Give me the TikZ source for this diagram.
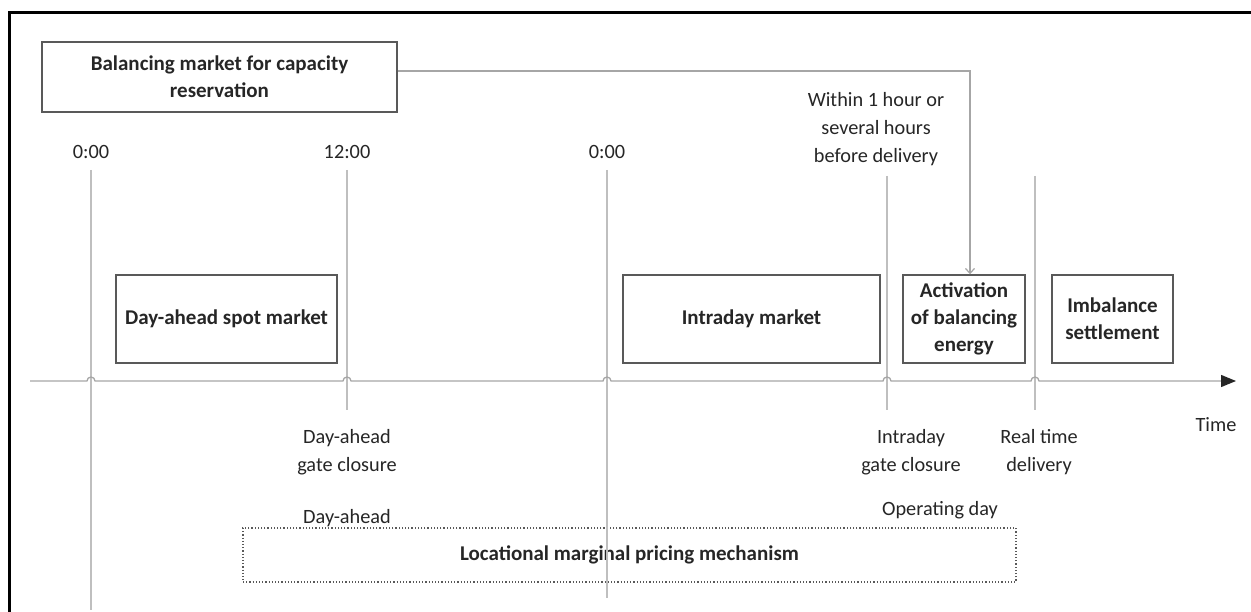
\documentclass[tikz,border=0pt]{standalone}
\usepackage{fontspec}
\setmainfont{Carlito}
\usetikzlibrary{arrows.meta}
\definecolor{txt}{HTML}{262626}
\definecolor{boxline}{HTML}{595959}
\definecolor{guide}{HTML}{BFBFBF}
\definecolor{axisc}{HTML}{A6A6A6}
\tikzset{
  mbox/.style={draw=boxline, line width=1.4pt, text=txt, font=\fontsize{21}{27}\selectfont\bfseries, align=center, inner sep=0pt},
  lbl/.style={text=txt, font=\fontsize{20.3}{28}\selectfont, align=center, inner sep=0pt},
  guideline/.style={draw=guide, line width=1.3pt},
}
\begin{document}
\begin{tikzpicture}[x=1pt,y=-1pt]
\useasboundingbox (0,0) rectangle (1251,612);
% frame
\draw[line width=3pt, black] (8,13) -- (1251,13);
\draw[line width=3pt, black] (9,13) -- (9,612);

% market boxes
\node[mbox, minimum width=355pt, minimum height=70pt] (bal) at (219.5,77) {Balancing market for capacity\\reservation};
\node[mbox, minimum width=221pt, minimum height=88pt] (da) at (226.5,319) {Day-ahead spot market};
\node[mbox, minimum width=257pt, minimum height=88pt] (id) at (751.5,319) {Intraday market};
\node[mbox, minimum width=122pt, minimum height=88pt] (act) at (964,319) {Activation\\of balancing\\energy};
\node[mbox, minimum width=121pt, minimum height=88pt] (imb) at (1112.5,319) {Imbalance\\settlement};
\node[draw=boxline, line width=1.2pt, dotted, minimum width=773pt, minimum height=54pt, inner sep=0pt,
      text=txt, font=\fontsize{21}{27}\selectfont\bfseries] (lmp) at (629.5,555) {Locational marginal pricing mechanism};

% time labels
\node[lbl] (t0) at (91,152) {0:00};
\node[lbl] (t12) at (347,152) {12:00};
\node[lbl] (t0b) at (607,152) {0:00};
\node[lbl] (within) at (876,129) {Within 1 hour or\\several hours\\before delivery};

% guide lines
\coordinate (g0) at (91,170);   \coordinate (g0e) at (91,610);
\coordinate (g12) at (347,170); \coordinate (g12e) at (347,410);
\coordinate (g0b) at (607,170); \coordinate (g0be) at (607,598);
\coordinate (gid) at (887,176); \coordinate (gide) at (887,410);
\coordinate (grt) at (1035,176);\coordinate (grte) at (1035,410);
\foreach \a/\b in {g0/g0e,g12/g12e,g0b/g0be,gid/gide,grt/grte}
  \draw[guideline] (\a) -- (\b);

% time axis with hops over the guide lines
\coordinate (ax0) at (30,381);
\coordinate (ax1) at (1236,381);
\draw[draw=axisc, line width=1.3pt, -{Triangle[length=15pt,width=12pt,color=black!85]}]
  (ax0) -- (87,381) arc[start angle=180,end angle=0,radius=4pt]
  -- (343,381) arc[start angle=180,end angle=0,radius=4pt]
  -- (603,381) arc[start angle=180,end angle=0,radius=4pt]
  -- (883,381) arc[start angle=180,end angle=0,radius=4pt]
  -- (1031,381) arc[start angle=180,end angle=0,radius=4pt]
  -- (ax1);
\node[lbl] (time) at (1216,425) {Time};

% lower labels
\node[lbl] (dagc) at (347,452) {Day-ahead\\gate closure};
\node[lbl] (idgc) at (911,452) {Intraday\\gate closure};
\node[lbl] (rtd) at (1039,452) {Real time\\delivery};
\node[lbl] (dah) at (347,518) {Day-ahead};
\node[lbl] (opd) at (940,510) {Operating day};

% reservation feeds activation
\coordinate (bend) at (970,71);
\draw[draw=axisc, line width=1.2pt, -{Straight Barb[length=5pt,width=9pt]}]
  (bal.east |- bend) -- (bend) -- (bend |- act.north);
\end{tikzpicture}
\end{document}
